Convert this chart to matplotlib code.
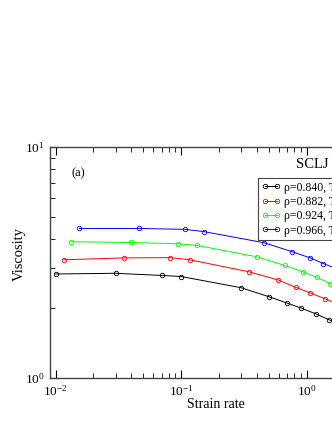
"""Shear viscosity vs strain rate, SCLJ panel (a)"""

import matplotlib
matplotlib.use("Agg")
import matplotlib.pyplot as plt
from matplotlib.ticker import NullFormatter

plt.rcParams['font.family'] = ['Liberation Serif', 'DejaVu Serif']
plt.rcParams['mathtext.fontset'] = 'custom'
plt.rcParams['mathtext.rm'] = 'Liberation Serif'

# strain rates and viscosities
rate_840 = [0.01, 0.03, 0.07, 0.1, 0.3, 0.5, 0.7, 0.9, 1.2, 1.5, 2.0]
visc_840 = [2.82, 2.84, 2.78, 2.75, 2.46, 2.25, 2.11, 2.01, 1.89, 1.79, 1.68]

rate_882 = [0.0116, 0.035, 0.082, 0.117, 0.35, 0.59, 0.82, 1.06, 1.41, 1.9]
visc_882 = [3.25, 3.31, 3.32, 3.25, 2.88, 2.66, 2.47, 2.34, 2.20, 2.06]

rate_924 = [0.0133, 0.040, 0.095, 0.134, 0.40, 0.67, 0.935, 1.21, 1.55, 2.0]
visc_924 = [3.89, 3.86, 3.81, 3.75, 3.35, 3.07, 2.88, 2.73, 2.56, 2.42]

rate_966 = [0.0154, 0.046, 0.108, 0.153, 0.46, 0.77, 1.07, 1.36, 1.8]
visc_966 = [4.44, 4.44, 4.40, 4.30, 3.85, 3.52, 3.31, 3.13, 2.95]

labels = ["ρ=0.840, T=0.694", "ρ=0.882, T=0.875",
          "ρ=0.924, T=1.089", "ρ=0.966, T=1.336"]
colors = ['black', 'red', '#00ff00', 'blue']

fig = plt.figure(figsize=(3.32, 4.30), dpi=100)
ax = fig.add_axes([50 / 332, 52 / 430, 332 / 332, 231 / 430])

series = [(rate_840, visc_840), (rate_882, visc_882),
          (rate_924, visc_924), (rate_966, visc_966)]
for (x, y), lab, col in zip(series, labels, colors):
    ax.plot(x, y, color=col, lw=0.7, marker='o', ms=3.2, mfc='none',
            mew=0.6, label=lab)

ax.set_xscale('log')
ax.set_yscale('log')
ax.set_xlim(0.009, 4)
ax.set_ylim(1, 10)
ax.yaxis.set_minor_formatter(NullFormatter())
ax.xaxis.set_minor_formatter(NullFormatter())

ax.tick_params(which='both', direction='in', top=True, right=True,
               labelsize=9.5, pad=4)
ax.tick_params(which='major', length=6, width=0.8)
ax.tick_params(which='minor', length=3.5, width=0.6)
for s in ax.spines.values():
    s.set_linewidth(1.0)
    s.set_color('#444444')

ax.set_xlabel("Strain rate", fontsize=10)
ax.set_ylabel("Viscosity", fontsize=10.5)
ax.xaxis.set_label_coords((216 - 50) / 332, (378 - 405) / 231)
ax.yaxis.set_label_coords((19 - 50) / 332, (378 - 254) / 231)
ax.xaxis.label.set_va('center')
ax.yaxis.label.set_va('center')

ax.text(72, 430 - 173, "(a)", transform=None, fontsize=9,
        ha='left', va='center')
ax.text(312, 430 - 165, "SCLJ", transform=None, fontsize=10.5,
        ha='center', va='center')

ax.legend(loc='upper left', bbox_to_anchor=((258 - 50) / 332, (378 - 178) / 231),
          borderaxespad=0, fontsize=8.5, numpoints=2, handlelength=1.6,
          handletextpad=0.3, labelspacing=0.2, borderpad=0.3,
          fancybox=False, frameon=True, edgecolor='#444444', framealpha=1)
ax.get_legend().get_frame().set_linewidth(0.8)

fig.savefig("out.png", dpi=100)
